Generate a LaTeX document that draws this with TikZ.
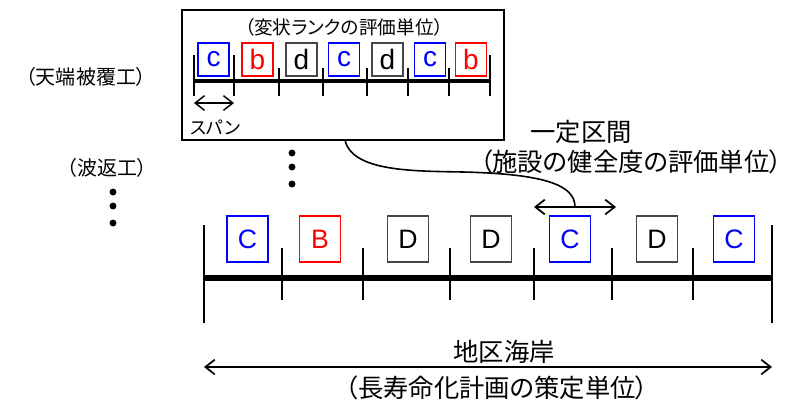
\documentclass[tikz,border=0pt]{standalone}
\usepackage{fontspec}
\setmainfont{Liberation Sans}
\newfontfamily\jpfont[RawFeature=+palt]{Noto Sans CJK JP}
\usepackage{xcolor}
\usepackage{tikz}
\usetikzlibrary{arrows.meta, positioning, calc}
\definecolor{rankblue}{RGB}{0, 0, 255}
\definecolor{rankred}{RGB}{255, 0, 0}
\definecolor{rankgray}{RGB}{70, 70, 70}
\tikzstyle{smallrank} = [rectangle, line width=0.8pt, minimum width=23.25pt, minimum height=24.75pt, inner sep=0pt, font=\fontsize{21}{21}\selectfont]
\tikzstyle{bigrank} = [rectangle, line width=0.8pt, minimum width=30.75pt, minimum height=34.5pt, inner sep=0pt, font=\fontsize{20}{20}\selectfont]
\tikzstyle{tick} = [line width=1.5pt]
\tikzstyle{span} = [{Straight Barb[length=7pt, width=11pt]}-{Straight Barb[length=7pt, width=11pt]}, line width=1.3pt]
\tikzstyle{jplabel} = [inner sep=0pt, font=\jpfont\fontsize{19}{19}\selectfont]

\begin{document}
\begin{tikzpicture}[x=0.75pt, y=-0.75pt]
    \useasboundingbox (0,0) rectangle (792,405);

    % Evaluation panel (small scale)
    \node[draw, line width=1.2pt, minimum width=241.5pt, minimum height=97.5pt, inner sep=0pt] (panel) at (343,75) {};
    \node[inner sep=0pt, font=\jpfont\fontsize{14}{14}\selectfont] (paneltitle) at (344,27) {（変状ランクの評価単位）};

    \foreach \x in {194,234,490} {
        \draw[line width=1.1pt] (\x,55) -- (\x,96);
    }
    \foreach \x in {279,323,367,408,449} {
        \draw[line width=1.1pt] (\x,68) -- (\x,96);
    }
    \draw[line width=2.8pt] (194,81) -- (490,81);

    \foreach \i/\x/\l/\c/\t in {1/213.5/c/rankblue/rankblue, 2/257.5/b/rankred/rankred, 3/301.5/d/rankgray/black, 4/344/c/rankblue/rankblue, 5/387.5/d/rankgray/black, 6/430/c/rankblue/rankblue, 7/471/b/rankred/rankred} {
        \node[smallrank, draw=\c, text=\t] (s\i) at (\x,59.5) {\l};
    }

    \coordinate (sp1) at (194,103);
    \coordinate (sp2) at (234,103);
    \draw[span, line width=1.1pt] (sp1) -- (sp2);
    \node[inner sep=0pt, font=\jpfont\fontsize{13.5}{13.5}\selectfont] (spanlabel) at (215,127) {スパン};

    % Facility labels
    \node[inner sep=0pt, font=\jpfont\fontsize{15}{15}\selectfont] (crown) at (86,77) {（天端被覆工）};
    \node[inner sep=0pt, font=\jpfont\fontsize{15}{15}\selectfont] (parapet) at (107,168) {（波返工）};
    \foreach \y in {192,206,223} {
        \fill (113,\y) circle (2.6pt);
    }
    \foreach \y in {153,167,184} {
        \fill (292,\y) circle (2.6pt);
    }

    % Main scale
    \foreach \x in {204,772} {
        \draw[tick] (\x,225) -- (\x,323);
    }
    \foreach \x in {282,363,450,534,612,693} {
        \draw[tick] (\x,248) -- (\x,300);
    }
    \draw[line width=4.5pt] (204,278) -- (772,278);

    \foreach \i/\x/\l/\c/\t in {1/247.5/C/rankblue/rankblue, 2/320/B/rankred/rankred, 3/408/D/rankgray/black, 4/491/D/rankgray/black, 5/570/C/rankblue/rankblue, 6/657/D/rankgray/black, 7/734/C/rankblue/rankblue} {
        \node[bigrank, draw=\c, text=\t] (m\i) at (\x,239) {\l};
    }

    % Fixed interval
    \coordinate (iv1) at (534,207);
    \coordinate (iv2) at (616,207);
    \draw[span] (iv1) -- (iv2);
    \coordinate (ivmid) at ($(iv1)!0.5!(iv2)$);
    \coordinate (cstart) at (345,140);
    \draw[line width=1.2pt] (cstart) .. controls (352,172) and (415,171) .. (463,172) .. controls (545,174) and (575,185) .. (ivmid);
    \node[jplabel] (interval) at (581,132) {一定区間};
    \node[jplabel] (intervalsub) at (631,162) {（施設の健全度の評価単位）};

    % Coast district
    \coordinate (cd1) at (204,367);
    \coordinate (cd2) at (772,367);
    \draw[span] (cd1) -- (cd2);
    \node[jplabel] (coast) at (504,352) {地区海岸};
    \node[jplabel] (coastsub) at (497,388) {（長寿命化計画の策定単位）};
\end{tikzpicture}
\end{document}
